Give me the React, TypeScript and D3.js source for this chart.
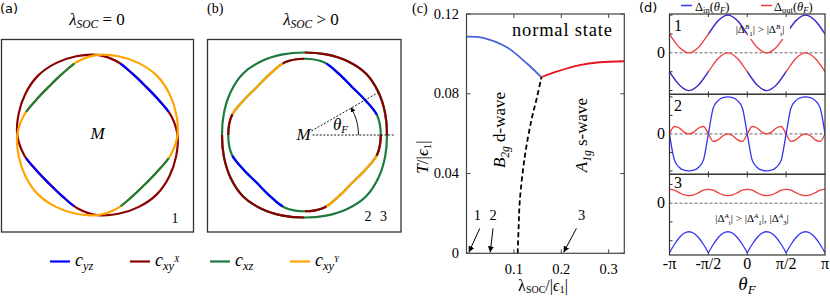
import * as d3 from "d3";

const SERIF = "'Liberation Serif', 'DejaVu Serif', serif";
const SANS = "'DejaVu Sans', 'Liberation Sans', sans-serif";

// ---------- (a), (b): Fermi surfaces, radius every 15 deg (units of box half-width)
const fsAngles = [0, 15, 30, 45, 60, 75, 90, 105, 120, 135, 150, 165, 180, 195, 210, 225, 240, 255, 270, 285, 300, 315, 330, 345];

const bandXyYa = [0.83, 0.845, 0.86, 0.87, 0.86, 0.845, 0.83, 0.788, 0.731, 0.71, 0.731, 0.788, 0.83, 0.845, 0.86, 0.87, 0.86, 0.845, 0.83, 0.788, 0.731, 0.71, 0.731, 0.788];
const bandXyXa = [0.83, 0.788, 0.731, 0.71, 0.731, 0.788, 0.83, 0.845, 0.86, 0.87, 0.86, 0.845, 0.83, 0.788, 0.731, 0.71, 0.731, 0.788, 0.83, 0.845, 0.86, 0.87, 0.86, 0.845];
const bandOuterB = [0.855, 0.865, 0.885, 0.9, 0.885, 0.865, 0.855, 0.865, 0.885, 0.9, 0.885, 0.865, 0.855, 0.865, 0.885, 0.9, 0.885, 0.865, 0.855, 0.865, 0.885, 0.9, 0.885, 0.865];
const bandInnerB = [0.79, 0.78, 0.725, 0.7, 0.725, 0.78, 0.79, 0.78, 0.725, 0.7, 0.725, 0.78, 0.79, 0.78, 0.725, 0.7, 0.725, 0.78, 0.79, 0.78, 0.725, 0.7, 0.725, 0.78];

const orbitalKeys = ["yz", "xyX", "xz", "xyY"];
const orbitalSub = ["yz", "xy", "xz", "xy"];
const orbitalSup = ["", "X", "", "Y"];
const orbitalColors = ["#0000ff", "#8b0000", "#1b7a3d", "#ffa500"];

// orbital character along each band: [from deg, to deg, orbital]
const segsXyYa = [[108, 162, "xz"], [288, 342, "xz"]];
const segsXyXa = [[18, 72, "yz"], [198, 252, "yz"]];
const segsOuterB = [[0, 90, "xyX"], [180, 270, "xyX"]];
const segsInnerB = [
  [15.6, 73, "yz"], [90, 107, "xyX"], [107, 164, "xyY"], [164, 180, "xyX"],
  [196, 253, "yz"], [270, 287, "xyX"], [287, 344, "xyY"], [344, 360, "xyX"],
];
const thetaFdeg = 30;

// ---------- (c): phase diagram
const tcDwave = [[0, 0.1086], [0.035, 0.108], [0.085, 0.1033], [0.127, 0.0953], [0.158, 0.0883]];
const tcSwave = [[0.158, 0.0883], [0.19, 0.0911], [0.239, 0.0944], [0.281, 0.0958], [0.333, 0.0963]];
const dsBoundary = [[0.108, 0], [0.11, 0.013], [0.1126, 0.0267], [0.123, 0.0485], [0.137, 0.0668], [0.149, 0.0785], [0.158, 0.0883]];
const cXTicks = [0.1, 0.2, 0.3];
const cXLabels = ["0.1", "0.2", "0.3"];
const cYTicks = [0, 0.04, 0.08, 0.12];
const cYLabels = ["0", "0.04", "0.08", "0.12"];
const cMarkers = [
  { label: "1", at: 0.005, from: 0.028, labelAt: 0.023 },
  { label: "2", at: 0.05, from: 0.056, labelAt: 0.056 },
  { label: "3", at: 0.205, from: 0.232, labelAt: 0.243 },
];
const cMarkerT = 0.0125;
const cLabelT = 0.0165;

// ---------- (d): gap functions, theta in units of pi/8 and pi/16
const theta8 = [-8, -7, -6, -5, -4, -3, -2, -1, 0, 1, 2, 3, 4, 5, 6, 7, 8];
const theta16 = [-16, -15, -14, -13, -12, -11, -10, -9, -8, -7, -6, -5, -4, -3, -2, -1, 0, 1, 2, 3, 4, 5, 6, 7, 8, 9, 10, 11, 12, 13, 14, 15, 16];

const p1Upper = [0.5, 0.15, 0, 0.15, 0.5, 0.85, 1, 0.85, 0.5, 0.15, 0, 0.15, 0.5, 0.85, 1, 0.85, 0.5];
const p1Lower = [-0.5, -0.85, -1, -0.85, -0.5, -0.15, 0, -0.15, -0.5, -0.85, -1, -0.85, -0.5, -0.15, 0, -0.15, -0.5];
// theta ranges (units of pi) where each band carries Delta_in
const p1UpperIn = [[-0.5, 0], [0.5, 1]];
const p1LowerIn = [[-1, -0.5], [0, 0.5]];

const p2In = [0, -0.7, -0.9, -0.98, -1, -0.98, -0.9, -0.7, 0, 0.7, 0.9, 0.98, 1, 0.98, 0.9, 0.7, 0, -0.7, -0.9, -0.98, -1, -0.98, -0.9, -0.7, 0, 0.7, 0.9, 0.98, 1, 0.98, 0.9, 0.7, 0];
const p2Out = [0, 0.2, 0.16, 0.05, 0, 0.05, 0.16, 0.2, 0, -0.2, -0.16, -0.05, 0, -0.05, -0.16, -0.2, 0, 0.2, 0.16, 0.05, 0, 0.05, 0.16, 0.2, 0, -0.2, -0.16, -0.05, 0, -0.05, -0.16, -0.2, 0];

const p3Out = [0.37, 0.35, 0.28, 0.22, 0.2, 0.22, 0.28, 0.35, 0.37, 0.35, 0.28, 0.22, 0.2, 0.22, 0.28, 0.35, 0.37, 0.35, 0.28, 0.22, 0.2, 0.22, 0.28, 0.35, 0.37, 0.35, 0.28, 0.22, 0.2, 0.22, 0.28, 0.35, 0.37];
const p3In = [-1.32, -1.1, -0.92, -0.8, -0.76, -0.8, -0.92, -1.1, -1.32, -1.1, -0.92, -0.8, -0.76, -0.8, -0.92, -1.1, -1.32, -1.1, -0.92, -0.8, -0.76, -0.8, -0.92, -1.1, -1.32, -1.1, -0.92, -0.8, -0.76, -0.8, -0.92, -1.1, -1.32];
const p3InCusps = [0, 8, 16, 24, 32];

const dXTicks = [-1, -0.5, 0, 0.5, 1];
const dXLabels = ["-π", "-π/2", "0", "π/2", "π"];

const IN_COLOR = "#3535f0";
const OUT_COLOR = "#f03c3c";

const colorOf = (k: string) => orbitalColors[orbitalKeys.indexOf(k)];
const toD3 = (deg: number) => Math.PI / 2 - (deg * Math.PI) / 180;

function Band({ id, radii, base, segs, r }: any) {
  const d = d3
    .lineRadial<number>()
    .angle((_, i) => toD3(fsAngles[i]))
    .radius((v) => r(v))
    .curve(d3.curveCatmullRomClosed.alpha(0.5))(radii) as string;
  const wedge = d3.arc<any>();
  return (
    <g>
      <path d={d} fill="none" stroke={colorOf(base)} strokeWidth={2.2} />
      {segs.map(([a0, a1, k]: any, i: number) => (
        <g key={i}>
          <clipPath id={`${id}${i}`}>
            <path d={wedge({ innerRadius: 0, outerRadius: 150, startAngle: toD3(a1), endAngle: toD3(a0) }) as string} />
          </clipPath>
          <path d={d} fill="none" stroke={colorOf(k)} strokeWidth={2.2} clipPath={`url(#${id}${i})`} />
        </g>
      ))}
    </g>
  );
}

// |Δ^sup_sub| written with the scripts side by side
function Script({ sup, sub, size }: any) {
  return (
    <>
      <tspan fontStyle="italic" fontSize={size} dy={-4}>{sup}</tspan>
      <tspan fontSize={size} dy={6.5}>{sub}</tspan>
      <tspan dy={-2.5}>|</tspan>
    </>
  );
}

function FermiPanels() {
  const r = d3.scaleLinear().domain([0, 1]).range([0, 96.5]);
  const bx = 304.5, by = 135;
  const rad = Math.PI / 180;
  const arcP = d3.path();
  arcP.arc(bx, by, 54, 0, -thetaFdeg * rad, true);
  return (
    <g>
      <text x={0} y={13} fontFamily={SANS} fontSize={13}>(a)</text>
      <text x={207} y={13} fontSize={14}>(b)</text>
      <text x={97} y={25} textAnchor="middle" fontSize={17}>
        <tspan fontStyle="italic">λ</tspan>
        <tspan fontStyle="italic" fontSize={11.5} dy={3}>SOC</tspan>
        <tspan dy={-3}> = 0</tspan>
      </text>
      <text x={311} y={25} textAnchor="middle" fontSize={17}>
        <tspan fontStyle="italic">λ</tspan>
        <tspan fontStyle="italic" fontSize={11.5} dy={3}>SOC</tspan>
        <tspan dy={-3}> &gt; 0</tspan>
      </text>
      <rect x={1.5} y={39.5} width={192} height={192.5} fill="none" stroke="#333" strokeWidth={1.3} />
      <rect x={207.5} y={39.5} width={193.5} height={192.5} fill="none" stroke="#333" strokeWidth={1.3} />

      <g transform="translate(97.4,135)">
        <Band id="aM" radii={bandXyXa} base="xyX" segs={segsXyXa} r={r} />
        <Band id="aO" radii={bandXyYa} base="xyY" segs={segsXyYa} r={r} />
      </g>
      <text x={97.5} y={139} textAnchor="middle" fontStyle="italic" fontSize={17}>M</text>
      <text x={175} y={223} textAnchor="middle" fontSize={14}>1</text>

      <g transform={`translate(${bx},${by})`}>
        <Band id="bO" radii={bandOuterB} base="xz" segs={segsOuterB} r={r} />
        <Band id="bI" radii={bandInnerB} base="xz" segs={segsInnerB} r={r} />
      </g>
      <line x1={bx + 8} y1={by} x2={395} y2={by} stroke="#000" strokeWidth={0.9} strokeDasharray="2,1.6" />
      <line
        x1={bx + 8 * Math.cos(thetaFdeg * rad)} y1={by - 8 * Math.sin(thetaFdeg * rad)}
        x2={bx + r(0.88) * Math.cos(thetaFdeg * rad)} y2={by - r(0.88) * Math.sin(thetaFdeg * rad)}
        stroke="#000" strokeWidth={0.9} strokeDasharray="2,1.6"
      />
      <path d={arcP.toString()} fill="none" stroke="#000" strokeWidth={0.9} markerEnd="url(#ahSmall)" />
      <text x={303.5} y={140} textAnchor="middle" fontStyle="italic" fontSize={17}>M</text>
      <text x={333} y={130} fontStyle="italic" fontSize={17}>
        θ<tspan fontSize={11} dy={3}>F</tspan>
      </text>
      <text x={368} y={221} textAnchor="middle" fontSize={14}>2</text>
      <text x={383.5} y={221} textAnchor="middle" fontSize={14}>3</text>

      {orbitalKeys.map((k, i) => (
        <g key={k} transform={`translate(${50 + i * 80},0)`}>
          <line x1={0} x2={20} y1={261.5} y2={261.5} stroke={orbitalColors[i]} strokeWidth={2.2} />
          <text x={25} y={266} fontStyle="italic" fontSize={18}>
            c<tspan fontSize={12.5} dy={4}>{orbitalSub[i]}</tspan>
            {orbitalSup[i] && <tspan fontSize={9} dy={-8}>{orbitalSup[i]}</tspan>}
          </text>
        </g>
      ))}
    </g>
  );
}

function PhasePanel() {
  const x = d3.scaleLinear().domain([0, 0.333]).range([466.5, 624.3]);
  const y = d3.scaleLinear().domain([0, 0.12]).range([253.3, 14]);
  const line = d3
    .line<number[]>()
    .x((d) => x(d[0]))
    .y((d) => y(d[1]))
    .curve(d3.curveCatmullRom);
  const [x0, x1] = x.range();
  const [y0, y1] = y.range();
  return (
    <g>
      <text x={412} y={13} fontSize={14}>(c)</text>
      <path d={line(tcDwave) as string} fill="none" stroke="#4a63d8" strokeWidth={1.8} />
      <path d={line(tcSwave) as string} fill="none" stroke="#e8141c" strokeWidth={1.8} />
      <path d={line(dsBoundary) as string} fill="none" stroke="#000" strokeWidth={1.8} strokeDasharray="5,3" />
      <rect x={x0} y={y1} width={x1 - x0} height={y0 - y1} fill="none" stroke="#444" strokeWidth={1.2} />
      {cXTicks.map((t, i) => (
        <g key={t}>
          <line x1={x(t)} x2={x(t)} y1={y0} y2={y0 - 4} stroke="#444" />
          <line x1={x(t)} x2={x(t)} y1={y1} y2={y1 + 4} stroke="#444" />
          <text x={x(t)} y={274} textAnchor="middle" fontSize={14.5}>{cXLabels[i]}</text>
        </g>
      ))}
      {cYTicks.map((t, i) => (
        <g key={t}>
          <line x1={x0} x2={x0 + 4} y1={y(t)} y2={y(t)} stroke="#444" />
          <line x1={x1} x2={x1 - 4} y1={y(t)} y2={y(t)} stroke="#444" />
          <text x={459} y={y(t) + 4.5} textAnchor="end" fontSize={14.5}>{cYLabels[i]}</text>
        </g>
      ))}
      {cMarkers.map((m) => (
        <g key={m.label}>
          <line x1={x(m.from)} y1={y(cMarkerT)} x2={x(m.at)} y2={y(0) - 1} stroke="#000" strokeWidth={1} markerEnd="url(#ah)" />
          <text x={x(m.labelAt)} y={y(cLabelT)} textAnchor="middle" fontSize={14.5}>{m.label}</text>
        </g>
      ))}
      <text x={562} y={36} textAnchor="middle" fontSize={18.5} textLength={100}>normal state</text>
      <text transform="translate(505,130) rotate(-90)" textAnchor="middle" fontSize={17}>
        <tspan fontStyle="italic">B</tspan>
        <tspan fontStyle="italic" fontSize={11.5} dy={3.5}>2g</tspan>
        <tspan dy={-3.5}> d-wave</tspan>
      </text>
      <text transform="translate(587,135) rotate(-90)" textAnchor="middle" fontSize={17}>
        <tspan fontStyle="italic">A</tspan>
        <tspan fontStyle="italic" fontSize={11.5} dy={3.5}>1g</tspan>
        <tspan dy={-3.5}> s-wave</tspan>
      </text>
      <text transform="translate(428,157) rotate(-90)" textAnchor="middle" fontSize={17}>
        <tspan fontStyle="italic">T</tspan>/|<tspan fontStyle="italic">ϵ</tspan>
        <tspan fontSize={11} dy={3}>1</tspan>
        <tspan dy={-3}>|</tspan>
      </text>
      <text x={543} y={290.5} textAnchor="middle" fontSize={16}>
        λ<tspan fontSize={10} dy={2}>SOC</tspan>
        <tspan dy={-2}>/|</tspan>
        <tspan fontStyle="italic">ϵ</tspan>
        <tspan fontSize={10.5} dy={2}>1</tspan>
        <tspan dy={-2}>|</tspan>
      </text>
    </g>
  );
}

function SubPanel({ id, top, bottom, domain, label, labelY, children }: any) {
  const gx = d3.scaleLinear().domain([-1, 1]).range([669.5, 825]);
  const gy = d3.scaleLinear().domain(domain).range([bottom, top]);
  const yt = [-1, -0.5, 0.5, 1].filter((v) => v > domain[0] && v < domain[1]);
  return (
    <g>
      <clipPath id={id}>
        <rect x={gx(-1)} y={top} width={gx(1) - gx(-1)} height={bottom - top} />
      </clipPath>
      <line x1={gx(-1)} x2={gx(1)} y1={gy(0)} y2={gy(0)} stroke="#666" strokeWidth={1} strokeDasharray="3,2" />
      <g clipPath={`url(#${id})`}>{children(gx, gy)}</g>
      <rect x={gx(-1)} y={top} width={gx(1) - gx(-1)} height={bottom - top} fill="none" stroke="#333" strokeWidth={1.2} />
      {dXTicks.slice(1, 4).map((t) => (
        <g key={t}>
          <line x1={gx(t)} x2={gx(t)} y1={top} y2={top + 3} stroke="#333" />
          <line x1={gx(t)} x2={gx(t)} y1={bottom} y2={bottom - 3} stroke="#333" />
        </g>
      ))}
      {yt.map((t) => (
        <line key={t} x1={gx(-1)} x2={gx(-1) + 3} y1={gy(t)} y2={gy(t)} stroke="#333" />
      ))}
      <text x={665} y={gy(0) + 5} textAnchor="end" fontSize={16}>0</text>
      <text x={678} y={labelY} textAnchor="middle" fontSize={16}>{label}</text>
    </g>
  );
}

function GapPanel() {
  const mk = (grid: number[], step: number, vals: number[], gx: any, gy: any) =>
    d3
      .line<number>()
      .x((_, i) => gx(grid[i] * step))
      .y((v) => gy(v))
      .curve(d3.curveMonotoneX)(vals) as string;
  const gxLab = d3.scaleLinear().domain([-1, 1]).range([669.5, 825]);

  const clipRanges = (id: string, ranges: number[][], gx: any) => (
    <clipPath id={id}>
      {ranges.map(([a, b]) => (
        <rect key={a} x={gx(a)} y={0} width={gx(b) - gx(a)} height={296} />
      ))}
    </clipPath>
  );

  return (
    <g>
      <text x={639} y={12} fontFamily={SANS} fontSize={13}>(d)</text>
      <line x1={681} x2={692} y1={5.5} y2={5.5} stroke={IN_COLOR} strokeWidth={1.5} />
      <text x={695} y={11} fontSize={12.5}>
        Δ<tspan fontSize={8.5} dy={2}>in</tspan>
        <tspan dy={-2}>(</tspan>
        <tspan fontStyle="italic">θ</tspan>
        <tspan fontStyle="italic" fontSize={8.5} dy={2}>F</tspan>
        <tspan dy={-2}>)</tspan>
      </text>
      <line x1={761} x2={772} y1={5.5} y2={5.5} stroke={OUT_COLOR} strokeWidth={1.5} />
      <text x={774} y={11} fontSize={12.5}>
        Δ<tspan fontSize={8.5} dy={2}>out</tspan>
        <tspan dy={-2}>(</tspan>
        <tspan fontStyle="italic">θ</tspan>
        <tspan fontStyle="italic" fontSize={8.5} dy={2}>F</tspan>
        <tspan dy={-2}>)</tspan>
      </text>

      <SubPanel id="d1" top={14} bottom={94.3} domain={[-1.1, 1.03]} label="1" labelY={31}>
        {(gx: any, gy: any) => (
          <g>
            {clipRanges("d1u", p1UpperIn, gx)}
            {clipRanges("d1l", p1LowerIn, gx)}
            <path d={mk(theta8, 1 / 8, p1Upper, gx, gy)} fill="none" stroke={OUT_COLOR} strokeWidth={1.3} />
            <path d={mk(theta8, 1 / 8, p1Upper, gx, gy)} fill="none" stroke={IN_COLOR} strokeWidth={1.3} clipPath="url(#d1u)" />
            <path d={mk(theta8, 1 / 8, p1Lower, gx, gy)} fill="none" stroke={OUT_COLOR} strokeWidth={1.3} />
            <path d={mk(theta8, 1 / 8, p1Lower, gx, gy)} fill="none" stroke={IN_COLOR} strokeWidth={1.3} clipPath="url(#d1l)" />
            <rect x={748} y={22} width={42} height={17} fill="#fff" />
            <text x={760} y={33} textAnchor="middle" fontSize={11}>
              |Δ<Script sup="B" sub="1" size={7} />
              <tspan> &gt; |Δ</tspan>
              <Script sup="B" sub="t" size={7} />
            </text>
          </g>
        )}
      </SubPanel>

      <SubPanel id="d2" top={94.3} bottom={174.3} domain={[-1.09, 1.07]} label="2" labelY={111}>
        {(gx: any, gy: any) => (
          <g>
            <path d={mk(theta16, 1 / 16, p2Out, gx, gy)} fill="none" stroke={OUT_COLOR} strokeWidth={1.3} />
            <path d={mk(theta16, 1 / 16, p2In, gx, gy)} fill="none" stroke={IN_COLOR} strokeWidth={1.3} />
          </g>
        )}
      </SubPanel>

      <SubPanel id="d3" top={174.3} bottom={255} domain={[-1.38, 0.77]} label="3" labelY={188}>
        {(gx: any, gy: any) => (
          <g>
            <path d={mk(theta16, 1 / 16, p3Out, gx, gy)} fill="none" stroke={OUT_COLOR} strokeWidth={1.3} />
            {p3InCusps.slice(1).map((end, j) => {
              const start = p3InCusps[j];
              return (
                <path
                  key={end}
                  d={mk(theta16.slice(start, end + 1), 1 / 16, p3In.slice(start, end + 1), gx, gy)}
                  fill="none" stroke={IN_COLOR} strokeWidth={1.3}
                />
              );
            })}
            <text x={752} y={222} textAnchor="middle" fontSize={11}>
              |Δ<Script sup="A" sub="t" size={7} />
              <tspan> &gt; |Δ</tspan>
              <Script sup="A" sub="1" size={7} />
              <tspan>, |Δ</tspan>
              <Script sup="A" sub="3" size={7} />
            </text>
          </g>
        )}
      </SubPanel>

      {dXTicks.map((t, i) => (
        <text key={t} x={gxLab(t)} y={269} textAnchor="middle" fontSize={16}>{dXLabels[i]}</text>
      ))}
      <text x={747} y={290} textAnchor="middle" fontStyle="italic" fontSize={19}>
        θ<tspan fontSize={13} dy={4}>F</tspan>
      </text>
    </g>
  );
}

export default function App() {
  return (
    <svg
      width={830}
      height={296}
      viewBox="0 0 830 296"
      fontFamily={SERIF}
      style={{ position: "absolute", left: 0, top: 0, background: "#fff" }}
    >
      <defs>
        <marker id="ah" viewBox="0 0 10 10" refX={10} refY={5} markerWidth={6} markerHeight={6} markerUnits="userSpaceOnUse" orient="auto">
          <path d="M0,0L10,5L0,10z" fill="#000" />
        </marker>
        <marker id="ahSmall" viewBox="0 0 10 10" refX={8} refY={5} markerWidth={5} markerHeight={5} markerUnits="userSpaceOnUse" orient="auto">
          <path d="M0,0L10,5L0,10z" fill="#000" />
        </marker>
      </defs>
      <FermiPanels />
      <PhasePanel />
      <GapPanel />
    </svg>
  );
}
